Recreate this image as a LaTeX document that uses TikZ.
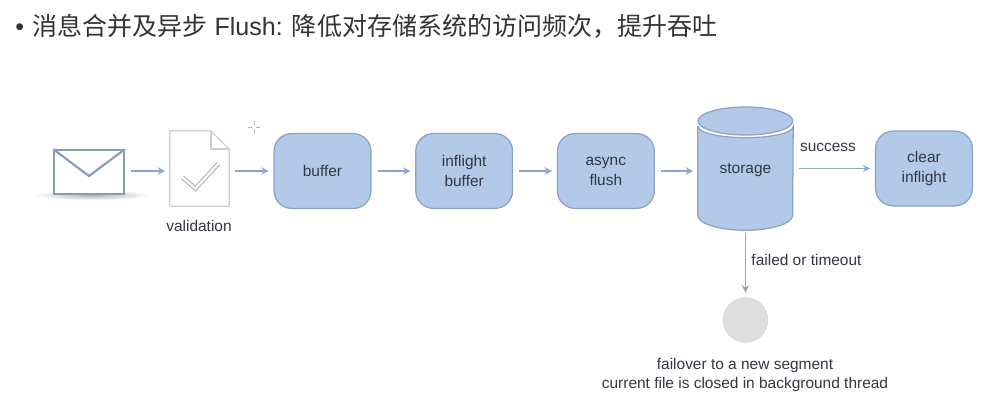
\documentclass[tikz,border=0pt]{standalone}
\usepackage{fontspec}
\setmainfont{Liberation Sans}
\newfontfamily\cjk{Noto Sans CJK SC}
\usepackage{tikz}
\usetikzlibrary{positioning, shapes.geometric, arrows, calc}
\definecolor{blockblue}{RGB}{178,202,232}
\definecolor{blockedge}{RGB}{140,162,198}
\definecolor{arrowblue}{RGB}{140,165,205}
\definecolor{mailedge}{RGB}{135,155,188}
\definecolor{docedge}{RGB}{202,205,214}
\definecolor{labeltext}{RGB}{50,55,66}

\begin{document}
\begin{tikzpicture}[x=0.25mm, y=0.25mm, font=\fontsize{11}{14.2}\selectfont, text=labeltext, node distance=10.9mm,
bluebox/.style={rectangle, rounded corners=4.4mm, draw=blockedge, line width=0.9pt,
fill=blockblue, minimum width=24.2mm, minimum height=18.7mm, align=center, inner sep=0pt},
arrow/.style={->, >=stealth, line width=1.3pt, draw=arrowblue, shorten >=1.2mm, shorten <=1.5mm},
note/.style={align=center, inner sep=0pt}
]
\useasboundingbox (0,0) rectangle (1000,-405);

% Title
\node[anchor=west, inner sep=0pt, font=\fontsize{17.8}{20}\selectfont, text=black!80] (title) at (15,-26)
{•\hspace{2.1mm}{\cjk 消息合并及异步} Flush: {\cjk 降低对存储系统的访问频次，提升吞吐}};

% Mail
\shade[inner color=black!30, outer color=white] (92,-195) ellipse (60 and 5);
\node[draw=mailedge, line width=1pt, fill=white, minimum width=17.5mm, minimum height=11mm, inner sep=0pt] (mail) at (89,-172) {};
\coordinate (flap) at (89,-176);
\draw[mailedge, line width=1.5pt] (mail.north west) -- (flap) -- (mail.north east);

% Validation
\node[minimum width=14.7mm, minimum height=18.7mm, inner sep=0pt] (doc) at (199.5,-168.5) {};
\draw[docedge, line width=0.9pt, line join=round] (doc.north west) -- ([xshift=-4.6mm]doc.north east)
  -- ([yshift=-4.6mm]doc.north east) -- (doc.south east) -- (doc.south west) -- cycle;
\draw[docedge, line width=1.5pt, line join=round] ([xshift=-4.6mm]doc.north east)
  |- ([yshift=-4.6mm]doc.north east);
\draw[black!30, line width=3.2pt, line join=miter] ($(doc.center)+(-17,-9)$) -- ++(13,-11) -- ++(23,25);
\draw[white, line width=1.6pt, line join=miter] ($(doc.center)+(-17,-9)$) -- ++(13,-11) -- ++(23,25);
\node[note] (validation) at (199,-226) {validation};

% Cursor mark
\coordinate (cursor) at (254,-127);
\draw[black!30, line width=0.4pt] ($(cursor)+(-6,0)$) -- ++(4,0) ($(cursor)+(2,0)$) -- ++(4,0)
  ($(cursor)+(0,-6)$) -- ++(0,4) ($(cursor)+(0,2)$) -- ++(0,4);

% Blocks
\node[bluebox] (buffer) at (322.5,-171) {buffer};
\node[bluebox, right=of buffer] (inflight) {inflight\\buffer};
\node[bluebox, right=of inflight] (async) {async\\flush};

% Storage
\node[minimum width=23.7mm, minimum height=30.75mm, inner sep=0pt] (storage) at (745.5,-168.5) {};
\fill[blockblue, draw=blockedge, line width=0.9pt] ([yshift=-5mm]storage.north west) -- ([yshift=3.75mm]storage.south west)
  arc (180:360:47.4 and 15) -- ([yshift=-5mm]storage.north east) arc (0:-180:47.4 and 11) -- cycle;
\node[ellipse, draw=blockedge, line width=0.9pt, fill=blockblue, minimum width=23.7mm, minimum height=7mm,
inner sep=0pt] (lid) at (745.5,-121) {};
\node[note] (storagetext) at (745.5,-170.5) {storage};

% Clear
\node[bluebox] (clear) at (924,-168.5) {clear\\inflight};
\node[note] (success) at (828,-147) {success};

% Failover
\node[circle, draw=black!16, fill=black!13, minimum size=11.2mm, inner sep=0pt] (failover) at (745.5,-320) {};
\node[note] (failed) at (806.5,-260) {failed or timeout};
\node[note, font=\fontsize{11}{13.6}\selectfont] (failovertext) at (745,-375) {failover to a new segment\\current file is closed in background thread};

% Arrows
\draw[arrow] (mail.east |- 0,-171) -- (doc.west |- 0,-171);
\draw[arrow] (doc.east |- buffer.west) -- (buffer.west);
\draw[arrow] (buffer) -- (inflight);
\draw[arrow] (inflight) -- (async);
\draw[arrow] (async) -- (async -| storage.west);
\draw[arrow] (clear.west -| storage.east) -- (clear.west);
\draw[arrow, shorten <=0.6mm] (storage.south) -- (failover.north);

\end{tikzpicture}
\end{document}
